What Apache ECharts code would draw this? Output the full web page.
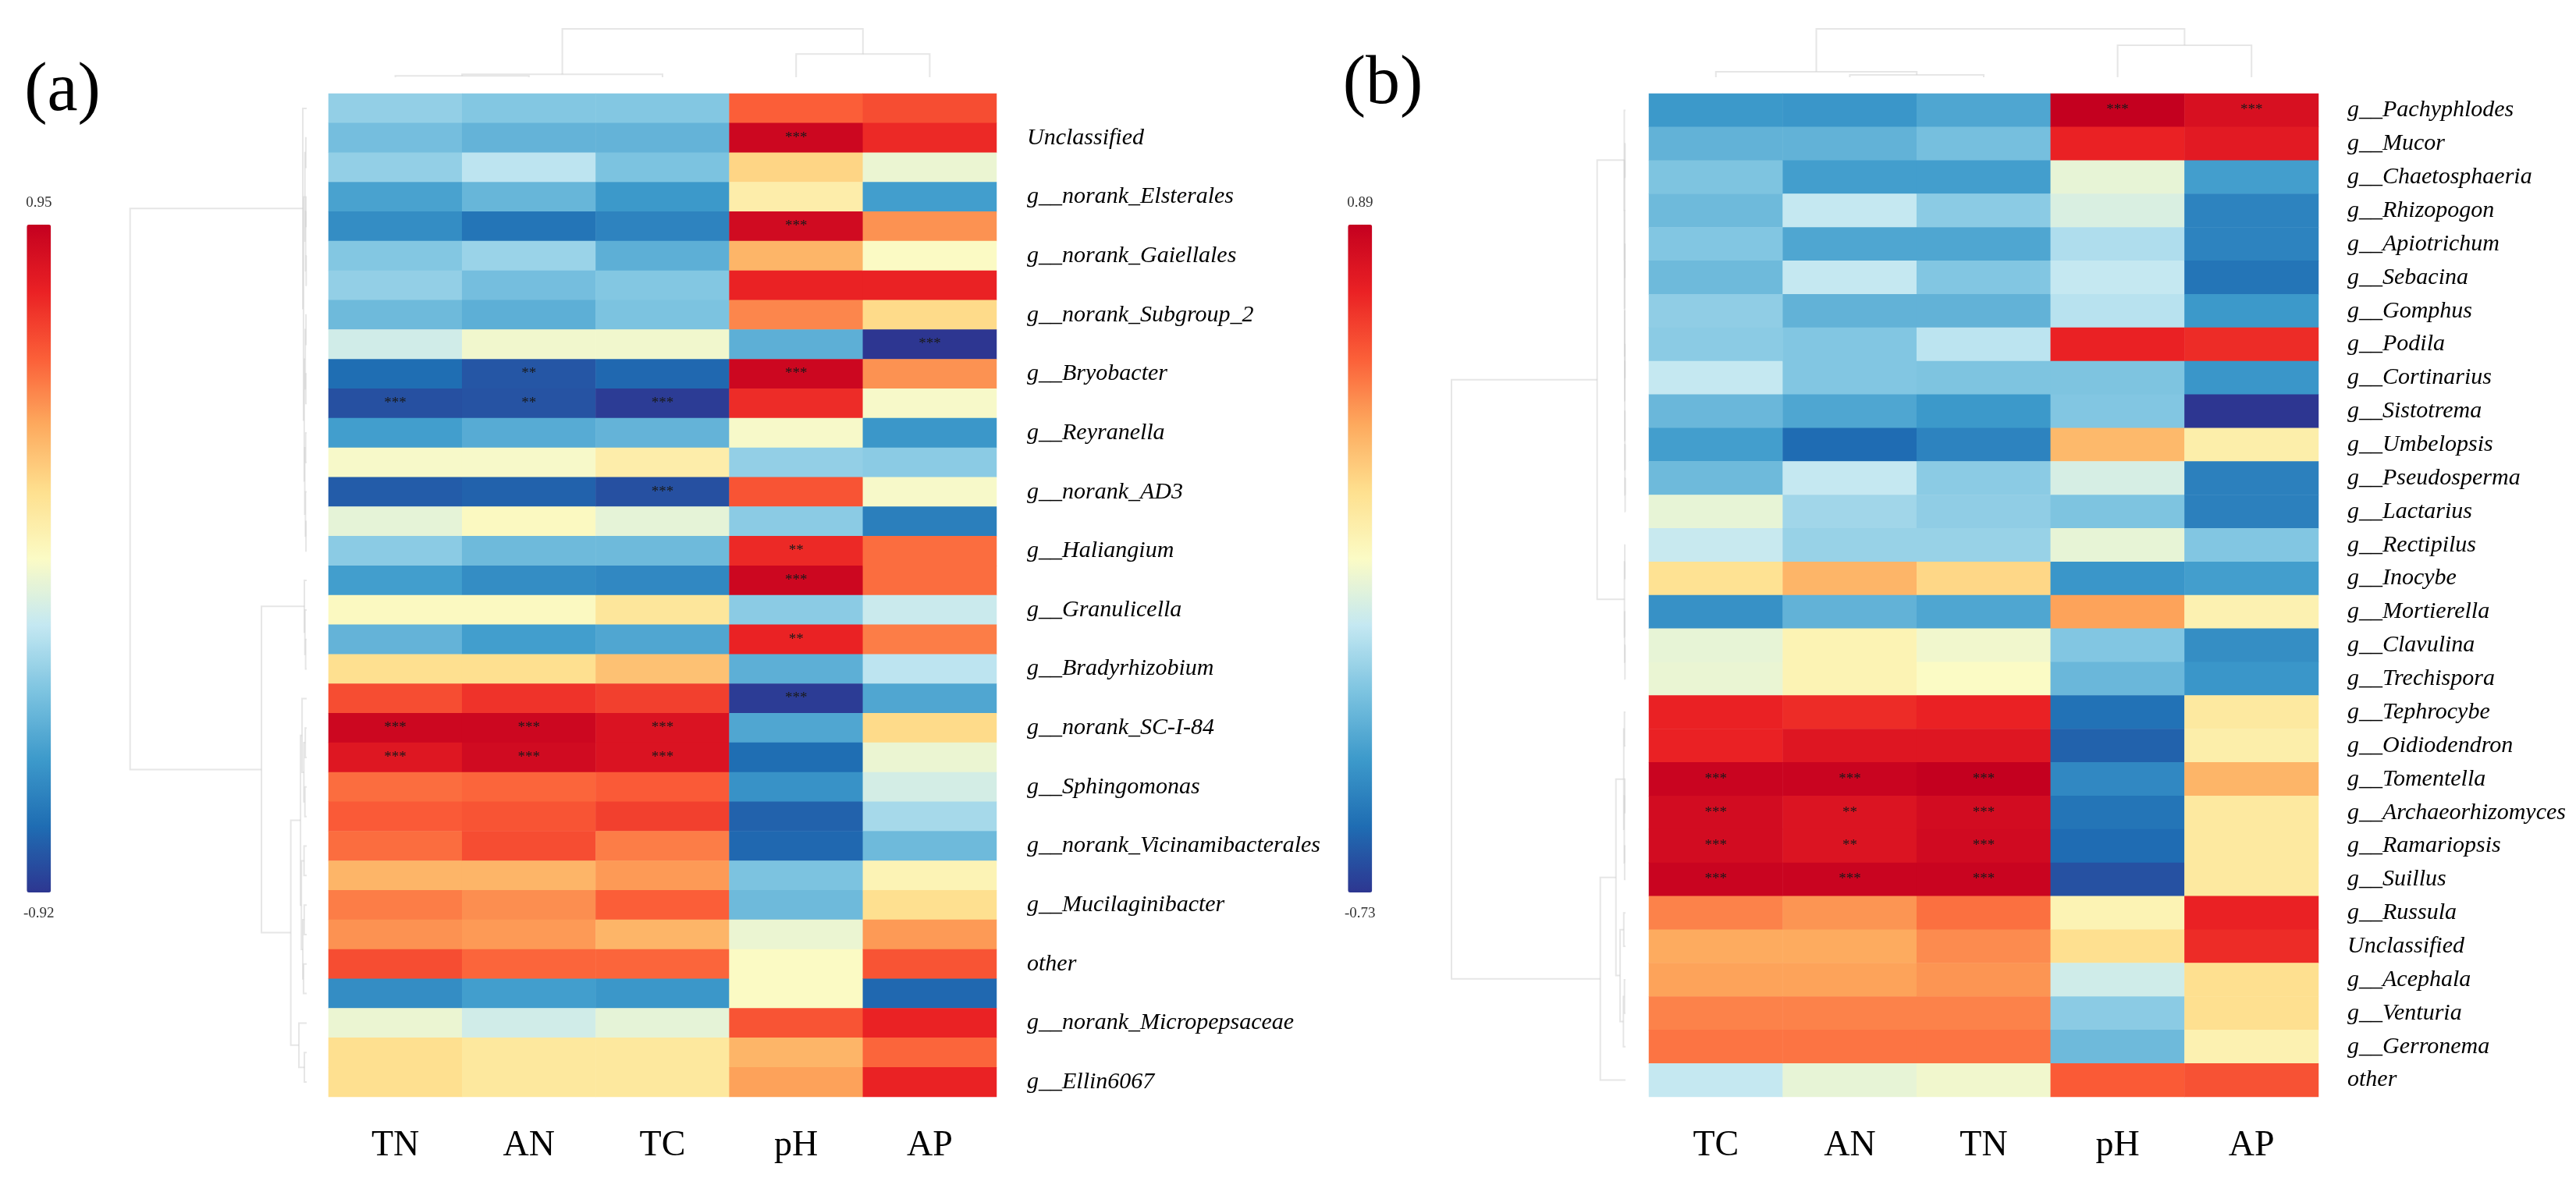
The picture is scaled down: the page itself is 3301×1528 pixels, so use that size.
<!DOCTYPE html>
<html><head><meta charset="utf-8">
<script src="https://cdn.jsdelivr.net/npm/echarts@6/dist/echarts.min.js"></script>
<style>html,body{margin:0;padding:0;background:#fff}#c{width:3301px;height:1528px}</style>
</head><body><div id="c"></div>
<script>
// ---------- data: panel (a) ----------
const leftCols = ['TN', 'AN', 'TC', 'pH', 'AP'];
const leftRows = ['', 'Unclassified', '', 'g__norank_Elsterales', '', 'g__norank_Gaiellales', '', 'g__norank_Subgroup_2',
  '', 'g__Bryobacter', '', 'g__Reyranella', '', 'g__norank_AD3', '', 'g__Haliangium', '', 'g__Granulicella',
  '', 'g__Bradyrhizobium', '', 'g__norank_SC-I-84', '', 'g__Sphingomonas', '', 'g__norank_Vicinamibacterales',
  '', 'g__Mucilaginibacter', '', 'other', '', 'g__norank_Micropepsaceae', '', 'g__Ellin6067'];
const leftTN = [-0.30, -0.38, -0.30, -0.51, -0.60, -0.34, -0.30, -0.40, -0.13, -0.73, -0.83, -0.53, 0.00, -0.79, -0.06, -0.32, -0.53, 0.03, -0.43, 0.20, 0.63, 0.91, 0.82, 0.54, 0.59, 0.54, 0.35, 0.50, 0.45, 0.63, -0.60, -0.04, 0.20, 0.20];
const leftAN = [-0.34, -0.43, -0.19, -0.42, -0.70, -0.28, -0.38, -0.45, -0.02, -0.81, -0.82, -0.47, 0.00, -0.77, 0.03, -0.40, -0.60, 0.03, -0.53, 0.20, 0.71, 0.91, 0.89, 0.56, 0.61, 0.63, 0.35, 0.46, 0.43, 0.56, -0.53, -0.13, 0.15, 0.15];
const leftTC = [-0.34, -0.43, -0.36, -0.55, -0.64, -0.45, -0.34, -0.36, -0.02, -0.75, -0.90, -0.43, 0.11, -0.83, -0.06, -0.40, -0.62, 0.16, -0.49, 0.31, 0.67, 0.84, 0.84, 0.59, 0.67, 0.50, 0.43, 0.58, 0.35, 0.56, -0.56, -0.06, 0.15, 0.15];
const leftPH = [0.58, 0.91, 0.24, 0.11, 0.89, 0.35, 0.76, 0.48, -0.45, 0.91, 0.73, 0.00, -0.30, 0.61, -0.32, 0.74, 0.91, -0.32, 0.76, -0.45, -0.90, -0.49, -0.73, -0.58, -0.77, -0.75, -0.36, -0.40, -0.04, 0.02, 0.02, 0.61, 0.35, 0.41];
const leftAP = [0.63, 0.74, -0.04, -0.53, 0.45, 0.02, 0.76, 0.22, -0.92, 0.45, 0.00, -0.56, -0.32, 0.00, -0.66, 0.54, 0.54, -0.15, 0.50, -0.19, -0.49, 0.22, -0.04, -0.12, -0.25, -0.40, 0.07, 0.20, 0.43, 0.61, -0.75, 0.76, 0.56, 0.76];
const leftSig = [[1,3,'***'],[4,3,'***'],[8,4,'***'],[9,1,'**'],[9,3,'***'],[10,0,'***'],[10,1,'**'],[10,2,'***'],
  [13,2,'***'],[15,3,'**'],[16,3,'***'],[18,3,'**'],[20,3,'***'],[21,0,'***'],[21,1,'***'],[21,2,'***'],
  [22,0,'***'],[22,1,'***'],[22,2,'***']];
const leftRange = [-0.92, 0.95];
// dendrograms: [height, childA, childB], leaves = row/column index
const leftRowTree = [100,
  [2.2, 0, [1.8, [1.0, [0.5, 1, 2], [0.6, [0.4, 3, 4], [0.3, 5, 6]]],
                 [1.4, [0.8, [0.4, 7, 8], [0.5, 9, 10]], [1.1, [0.6, 11, 12], [0.7, 13, [0.4, 14, 15]]]]]],
  [25.6, [1.3, 16, [1.0, 17, [0.6, 18, 19]]],
         [9.0, [3.5, [2.6, 20, [1.6, [0.8, 21, 22], [1.0, 23, 24]]], [3.0, [1.5, 25, 26], [2.2, [1.4, 27, 28], [1.8, 29, 30]]]],
               [4.4, 31, [1.3, 32, 33]]]]];
const leftColTree = [100, [6, [3, 0, 1], 2], [48, 3, 4]];

// ---------- data: panel (b) ----------
const rightCols = ['TC', 'AN', 'TN', 'pH', 'AP'];
const rightRows = ['g__Pachyphlodes', 'g__Mucor', 'g__Chaetosphaeria', 'g__Rhizopogon', 'g__Apiotrichum', 'g__Sebacina',
  'g__Gomphus', 'g__Podila', 'g__Cortinarius', 'g__Sistotrema', 'g__Umbelopsis', 'g__Pseudosperma', 'g__Lactarius',
  'g__Rectipilus', 'g__Inocybe', 'g__Mortierella', 'g__Clavulina', 'g__Trechispora', 'g__Tephrocybe', 'g__Oidiodendron',
  'g__Tomentella', 'g__Archaeorhizomyces', 'g__Ramariopsis', 'g__Suillus', 'g__Russula', 'Unclassified', 'g__Acephala',
  'g__Venturia', 'g__Gerronema', 'other'];
const rightTC = [-0.41, -0.31, -0.24, -0.28, -0.23, -0.28, -0.20, -0.21, -0.08, -0.29, -0.39, -0.28, 0.02, -0.07, 0.23, -0.44, 0.02, 0.03, 0.73, 0.73, 0.87, 0.83, 0.83, 0.87, 0.49, 0.40, 0.42, 0.49, 0.52, -0.08];
const rightAN = [-0.42, -0.31, -0.39, -0.08, -0.36, -0.08, -0.31, -0.23, -0.23, -0.36, -0.57, -0.08, -0.16, -0.18, 0.37, -0.31, 0.13, 0.13, 0.70, 0.78, 0.87, 0.79, 0.79, 0.87, 0.45, 0.40, 0.42, 0.49, 0.52, 0.02];
const rightTN = [-0.36, -0.26, -0.39, -0.21, -0.36, -0.23, -0.31, -0.10, -0.24, -0.41, -0.49, -0.21, -0.20, -0.18, 0.27, -0.36, 0.05, 0.08, 0.73, 0.78, 0.89, 0.83, 0.84, 0.87, 0.53, 0.47, 0.45, 0.49, 0.52, 0.05];
const rightPH = [0.89, 0.73, 0.02, -0.02, -0.13, -0.08, -0.11, 0.73, -0.24, -0.23, 0.36, -0.03, -0.24, 0.02, -0.42, 0.42, -0.23, -0.29, -0.55, -0.60, -0.47, -0.54, -0.57, -0.65, 0.13, 0.24, -0.05, -0.21, -0.28, 0.58];
const rightAP = [0.81, 0.76, -0.39, -0.49, -0.49, -0.54, -0.41, 0.70, -0.42, -0.73, 0.16, -0.50, -0.50, -0.23, -0.39, 0.14, -0.45, -0.42, 0.19, 0.16, 0.37, 0.19, 0.19, 0.19, 0.73, 0.70, 0.24, 0.24, 0.14, 0.60];
const rightSig = [[0,3,'***'],[0,4,'***'],[20,0,'***'],[20,1,'***'],[20,2,'***'],[21,0,'***'],[21,1,'**'],[21,2,'***'],
  [22,0,'***'],[22,1,'**'],[22,2,'***'],[23,0,'***'],[23,1,'***'],[23,2,'***']];
const rightRange = [-0.73, 0.89];
const rightRowTree = [100,
  [16.3,
    [0.7, 0, [0.62, [0.3, 1, 2], [0.55, 3, [0.5, [0.35, 4, 5], [0.45, 6, [0.4, [0.3, 7, 8], [0.35, 9, [0.3, 10, [0.2, 11, 12]]]]]]]]],
    [0.6, [0.4, 13, 14], [0.5, 15, [0.3, 16, 17]]]],
  [14.5,
    [5.5, [1.0, [0.6, 18, 19], [0.7, [0.4, 20, 21], [0.5, 22, 23]]], [3.1, [1.0, 24, 25], [1.2, [0.6, 26, 27], 28]]],
    29]];
const rightColTree = [100, [11.3, 0, [4.8, 1, 2]], [66, 3, 4]];

const palette = ['#2d3691', '#1f6db3', '#3d9acb', '#7cc3e0', '#c4e8f2', '#fbfbc5', '#fee08f', '#fdaa5e', '#fb5f38', '#ea2124', '#c4001f'];

// ---------- builders ----------
function heatData(cols) {
  const out = [];
  cols.forEach((arr, c) => arr.forEach((v, r) => out.push([c, r, v])));
  return out;
}
function sigMap(list) { const m = {}; list.forEach(([r, c, s]) => { m[r + '_' + c] = s; }); return m; }
function treeLines(tree, swap) {
  const segs = [];
  function walk(n) {
    if (typeof n === 'number') return { p: n + 0.5, h: 0 };
    const A = walk(n[1]), B = walk(n[2]), h = n[0];
    let pts = [[A.h, A.p], [h, A.p], [h, B.p], [B.h, B.p]];
    if (swap) pts = pts.map(([a, b]) => [b, a]);
    segs.push({ coords: pts });
    return { p: (A.p + B.p) / 2, h: h };
  }
  walk(tree);
  return segs;
}
const lSig = sigMap(leftSig), rSig = sigMap(rightSig);
const serif = 'Liberation Serif';
const dendroStyle = { color: '#cdcdcd', width: 2 };

function heatX(idx, cols) {
  return { gridIndex: idx, type: 'category', data: cols, position: 'bottom',
    axisLine: { show: false }, axisTick: { show: false }, splitLine: { show: false },
    axisLabel: { fontFamily: serif, fontSize: 46, color: '#000', margin: 40 } };
}
function heatY(idx, rows, margin) {
  return { gridIndex: idx, type: 'category', data: rows, inverse: true, position: 'right',
    axisLine: { show: false }, axisTick: { show: false }, splitLine: { show: false },
    axisLabel: { interval: 0, fontFamily: serif, fontStyle: 'italic', fontSize: 30, color: '#000', margin: margin } };
}
const hidden = (idx, extra) => Object.assign({ gridIndex: idx, type: 'value', show: false, splitLine: { show: false } }, extra);

const option = {
  backgroundColor: '#fff',
  animation: false,
  grid: [
    { left: 421, top: 120, width: 856, height: 1286 },
    { left: 166.7, top: 120, width: 226.3, height: 1286 },
    { left: 421, top: 37, width: 856, height: 62 },
    { left: 2113, top: 120, width: 858, height: 1286 },
    { left: 1860, top: 120, width: 223, height: 1286 },
    { left: 2113, top: 37, width: 858, height: 62 }
  ],
  xAxis: [
    heatX(0, leftCols),
    hidden(1, { min: 0, max: 100, inverse: true }),
    hidden(2, { min: 0, max: 5 }),
    heatX(3, rightCols),
    hidden(4, { min: 0, max: 100, inverse: true }),
    hidden(5, { min: 0, max: 5 })
  ],
  yAxis: [
    heatY(0, leftRows, 39),
    hidden(1, { min: 0, max: leftRows.length, inverse: true }),
    hidden(2, { min: 0, max: 100 }),
    heatY(3, rightRows, 37),
    hidden(4, { min: 0, max: rightRows.length, inverse: true }),
    hidden(5, { min: 0, max: 100 })
  ],
  visualMap: [
    { type: 'continuous', seriesIndex: 0, min: leftRange[0], max: leftRange[1], orient: 'vertical',
      left: 30, top: 251, itemWidth: 31, itemHeight: 856, padding: 0, calculable: false, hoverLink: false,
      text: [leftRange[1].toFixed(2), leftRange[0].toFixed(2)], textGap: 18,
      textStyle: { fontFamily: serif, fontSize: 19, color: '#333' }, inRange: { color: palette } },
    { type: 'continuous', seriesIndex: 1, min: rightRange[0], max: rightRange[1], orient: 'vertical',
      left: 1723, top: 251, itemWidth: 31, itemHeight: 856, padding: 0, calculable: false, hoverLink: false,
      text: [rightRange[1].toFixed(2), rightRange[0].toFixed(2)], textGap: 18,
      textStyle: { fontFamily: serif, fontSize: 19, color: '#333' }, inRange: { color: palette } }
  ],
  graphic: [
    { type: 'text', x: 80, y: 118, style: { text: '(a)', fontFamily: serif, fontSize: 88, fill: '#000', align: 'center', verticalAlign: 'middle' } },
    { type: 'text', x: 1772, y: 109, style: { text: '(b)', fontFamily: serif, fontSize: 88, fill: '#000', align: 'center', verticalAlign: 'middle' } }
  ],
  series: [
    { type: 'heatmap', xAxisIndex: 0, yAxisIndex: 0, data: heatData([leftTN, leftAN, leftTC, leftPH, leftAP]),
      itemStyle: { borderWidth: 0 }, emphasis: { disabled: true },
      label: { show: true, fontFamily: serif, fontSize: 19, color: '#1a1a1a',
        formatter: p => lSig[p.value[1] + '_' + p.value[0]] || '' } },
    { type: 'heatmap', xAxisIndex: 3, yAxisIndex: 3, data: heatData([rightTC, rightAN, rightTN, rightPH, rightAP]),
      itemStyle: { borderWidth: 0 }, emphasis: { disabled: true },
      label: { show: true, fontFamily: serif, fontSize: 19, color: '#1a1a1a',
        formatter: p => rSig[p.value[1] + '_' + p.value[0]] || '' } },
    { type: 'lines', coordinateSystem: 'cartesian2d', xAxisIndex: 1, yAxisIndex: 1, polyline: true, silent: true,
      lineStyle: dendroStyle, data: treeLines(leftRowTree, false) },
    { type: 'lines', coordinateSystem: 'cartesian2d', xAxisIndex: 2, yAxisIndex: 2, polyline: true, silent: true,
      lineStyle: dendroStyle, data: treeLines(leftColTree, true) },
    { type: 'lines', coordinateSystem: 'cartesian2d', xAxisIndex: 4, yAxisIndex: 4, polyline: true, silent: true,
      lineStyle: dendroStyle, data: treeLines(rightRowTree, false) },
    { type: 'lines', coordinateSystem: 'cartesian2d', xAxisIndex: 5, yAxisIndex: 5, polyline: true, silent: true,
      lineStyle: dendroStyle, data: treeLines(rightColTree, true) }
  ]
};
const chart = echarts.init(document.getElementById('c'), null, { renderer: 'canvas' });
chart.setOption(option);
</script>
</body></html>
